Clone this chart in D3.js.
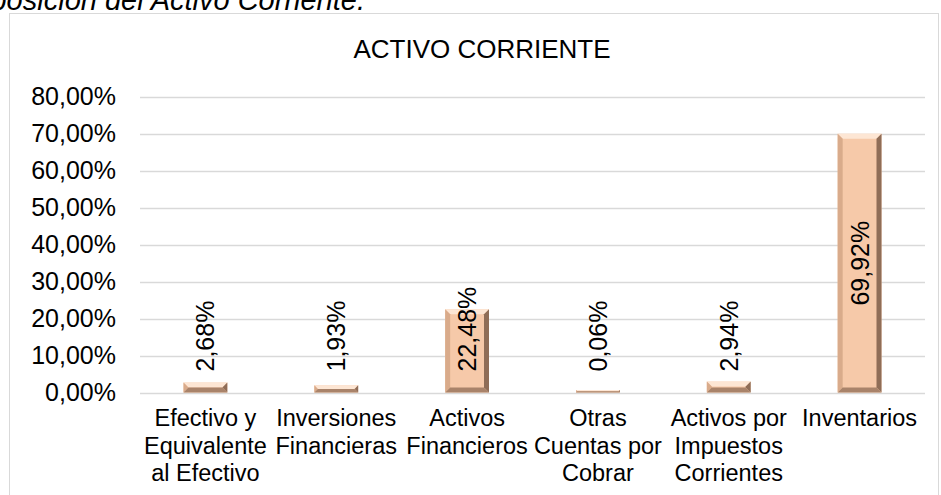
<!DOCTYPE html>
<html>
<head>
<meta charset="utf-8">
<script src="https://cdn.jsdelivr.net/npm/d3@7"></script>
<style>
  body { margin: 0; background: #fff; }
  svg { display: block; font-family: Arial, "Liberation Sans", sans-serif; }
</style>
</head>
<body>
<svg width="941" height="495"></svg>
<script>
// datos del grafico
var categories = [
  ["Efectivo y", "Equivalente", "al Efectivo"],
  ["Inversiones", "Financieras"],
  ["Activos", "Financieros"],
  ["Otras", "Cuentas por", "Cobrar"],
  ["Activos por", "Impuestos", "Corrientes"],
  ["Inventarios"]
];
var values = [2.68, 1.93, 22.48, 0.06, 2.94, 69.92];
var yTicks = [0, 10, 20, 30, 40, 50, 60, 70, 80];
var title = "ACTIVO CORRIENTE";
var caption = "Composición del Activo Corriente.";

var svg = d3.select("svg");
var width = +svg.attr("width");
var height = +svg.attr("height");

var fmt = function(v) { return v.toFixed(2).replace(".", ",") + "%"; };

// texto de arriba, cortado por el borde
svg.append("text")
  .attr("x", 365).attr("y", 10)
  .attr("text-anchor", "end")
  .attr("font-size", 29)
  .attr("font-style", "italic")
  .text(caption);

// borde del area del grafico
svg.append("rect")
  .attr("x", 9.5).attr("y", 13.5)
  .attr("width", 929).attr("height", 500)
  .attr("fill", "#fff")
  .attr("stroke", "#d9d9d9");

svg.append("text")
  .attr("x", 482).attr("y", 58)
  .attr("text-anchor", "middle")
  .attr("font-size", 26)
  .text(title);

var x = d3.scaleBand()
  .domain(d3.range(values.length))
  .range([140, 925])
  .paddingInner(0.665)
  .paddingOuter(0.3325);

var y = d3.scaleLinear().domain([0, 80]).range([392.5, 96.5]);

// lineas de la grilla
svg.append("g")
  .selectAll("line")
  .data(yTicks)
  .enter()
  .append("line")
  .attr("x1", 140).attr("x2", 925)
  .attr("y1", function(d) { return Math.round(y(d)) + 0.5; })
  .attr("y2", function(d) { return Math.round(y(d)) + 0.5; })
  .attr("stroke", "#d9d9d9")
  .attr("stroke-width", 1.5);

// eje y
var yAxis = svg.append("g")
  .attr("transform", "translate(116,0)")
  .call(d3.axisLeft(y).tickValues(yTicks).tickSize(0).tickPadding(0)
    .tickFormat(function(d) { return fmt(d); }));
yAxis.select(".domain").remove();
yAxis.selectAll("text")
  .attr("font-size", 25)
  .attr("font-family", "Arial, 'Liberation Sans', sans-serif")
  .attr("fill", "#000");

// etiquetas de categorias
var catG = svg.append("g").selectAll("text")
  .data(categories)
  .enter()
  .append("text")
  .attr("text-anchor", "middle")
  .attr("font-size", 23.5)
  .attr("x", function(d, i) { return x(i) + x.bandwidth() / 2; })
  .attr("y", 426);
catG.selectAll("tspan")
  .data(function(d) { return d; })
  .enter()
  .append("tspan")
  .attr("x", function() { return d3.select(this.parentNode).attr("x"); })
  .attr("dy", function(d, i) { return i == 0 ? 0 : 27.5; })
  .text(function(d) { return d; });

// barras con bisel (altura minima visible como en Excel)
var bars = svg.append("g").selectAll("g")
  .data(values)
  .enter()
  .append("g");

bars.each(function(v, i) {
  var g = d3.select(this);
  var x0 = x(i), w = x.bandwidth();
  var y0 = y(0), h = Math.max(y0 - y(v), 2.5), y1 = y0 - h;
  var b = Math.min(5, h / 2, w / 2);
  var x1 = x0 + w;
  g.append("rect")
    .attr("x", x0).attr("y", y1).attr("width", w).attr("height", h)
    .attr("fill", "#f6c9a9");
  // arriba
  g.append("polygon")
    .attr("points", [[x0, y1], [x1, y1], [x1 - b, y1 + b], [x0 + b, y1 + b]].join(" "))
    .attr("fill", "#fde6d4");
  // izquierda
  g.append("polygon")
    .attr("points", [[x0, y1], [x0 + b, y1 + b], [x0 + b, y0 - b], [x0, y0]].join(" "))
    .attr("fill", "#d9ab8b");
  // derecha
  g.append("polygon")
    .attr("points", [[x1, y1], [x1 - b, y1 + b], [x1 - b, y0 - b], [x1, y0]].join(" "))
    .attr("fill", "#8f6d57");
  // abajo
  g.append("polygon")
    .attr("points", [[x0, y0], [x0 + b, y0 - b], [x1 - b, y0 - b], [x1, y0]].join(" "))
    .attr("fill", "#a9836a");
});

// etiquetas de datos, rotadas
svg.append("g").selectAll("text")
  .data(values)
  .enter()
  .append("text")
  .attr("font-size", 25)
  .attr("text-anchor", "middle")
  .attr("dominant-baseline", "central")
  .text(function(d) { return fmt(d); })
  .attr("transform", function(d, i) {
    var len = this.getComputedTextLength();
    var cx = x(i) + x.bandwidth() / 2;
    var cy = Math.min((y(0) + y(d)) / 2, y(0) - 21 - len / 2);
    return "translate(" + cx + "," + cy + ") rotate(-90)";
  });
</script>
</body>
</html>
